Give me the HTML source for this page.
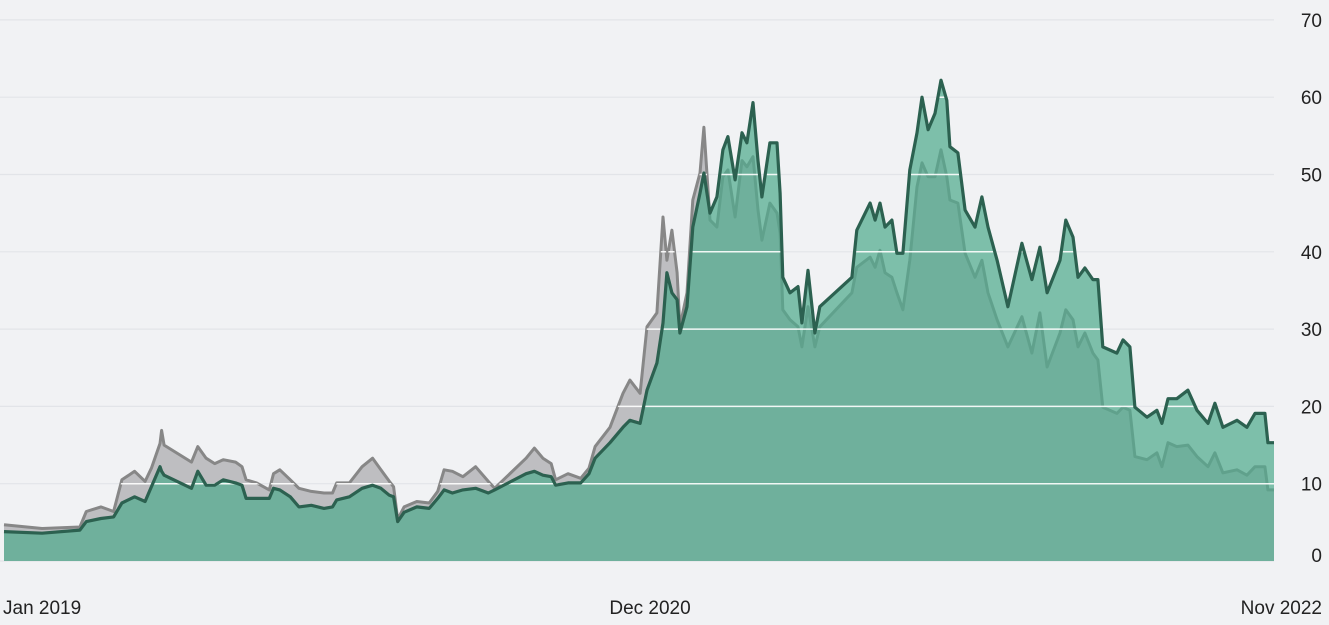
<!DOCTYPE html>
<html><head><meta charset="utf-8">
<style>
html,body{margin:0;padding:0;background:#f1f2f4;}
svg{display:block;font-family:"Liberation Sans",sans-serif;}
</style></head>
<body>
<svg id="chart" width="1329" height="625" viewBox="0 0 1329 625" xmlns="http://www.w3.org/2000/svg">
<rect x="0" y="0" width="1329" height="625" fill="#f1f2f4"/>
<g id="gridBack"></g>
<g id="marks"></g>
<g id="yTicks"></g>
<g id="xTicks"></g>
</svg>
<script>
const months = [0,1.38,2.75,2.98,3.51,3.97,4.27,4.73,5.11,5.34,5.65,5.71,5.80,6.79,7.02,7.32,7.63,7.94,8.39,8.62,8.77,9.15,9.61,9.76,9.99,10.37,10.68,11.13,11.59,11.90,12.05,12.51,12.97,13.35,13.65,13.96,14.11,14.26,14.49,14.95,15.40,15.71,15.94,16.24,16.62,17.08,17.54,17.77,18.91,19.21,19.52,19.82,19.98,20.43,20.89,21.19,
21.41,21.95,22.42,22.67,23.04,23.29,23.65,23.87,24.01,24.19,24.38,24.48,24.74,24.95,25.21,25.35,25.57,25.82,26.04,26.22,26.48,26.73,26.91,27.13,27.31,27.45,27.74,28.00,28.11,28.21,28.47,28.76,28.90,29.12,29.37,29.55,30.71,30.89,31.37,31.55,31.73,31.91,32.16,32.34,32.56,32.81,33.07,33.25,33.47,33.72,33.94,34.15,34.26,34.55,34.81,35.17,35.42,35.64,35.97,
36.36,36.87,37.23,37.52,37.78,38.25,38.46,38.72,38.90,39.15,39.44,39.62,39.80,40.31,40.53,40.78,40.96,41.40,41.76,41.94,42.16,42.48,42.88,43.21,43.61,43.86,44.15,44.66,45.02,45.31,45.67,45.78,46.00];
const seriesGreen = [3.8,3.6,4.0,5.1,5.5,5.7,7.5,8.3,7.7,9.6,12.2,11.6,11.1,9.4,11.6,9.8,9.8,10.5,10.1,9.8,8.1,8.1,8.1,9.4,9.2,8.3,7.0,7.2,6.8,7.0,7.9,8.3,9.4,9.8,9.4,8.5,8.3,5.1,6.3,7.0,6.8,8.1,9.2,8.8,9.2,9.4,8.8,9.2,11.3,11.6,11.1,10.9,9.8,10.1,10.1,11.3,
13.3,15.3,17.3,18.2,17.8,22.1,25.6,30.8,37.3,34.7,33.8,29.5,32.9,43.2,47.6,50.2,45.0,47.1,53.2,54.9,49.3,55.4,54.1,59.3,51.8,47.1,54.1,54.1,47.6,36.7,34.7,35.5,30.8,37.6,29.5,32.9,36.7,42.8,46.3,44.1,46.3,43.2,44.1,39.8,39.8,50.6,55.4,60.0,55.8,57.9,62.2,59.6,53.6,52.8,45.4,43.2,47.1,43.2,38.9,
32.9,41.1,36.4,40.6,34.7,38.9,44.1,41.9,36.7,37.9,36.4,36.4,27.7,26.9,28.6,27.7,19.9,18.6,19.5,17.8,21.0,21.0,22.1,19.5,17.8,20.4,17.3,18.2,17.3,19.1,19.1,15.3,15.3];
const seriesGrey = [4.7,4.2,4.4,6.4,7.0,6.4,10.5,11.6,10.3,12.0,15.2,16.9,15.0,12.8,14.8,13.3,12.6,13.1,12.8,12.2,10.5,10.1,9.2,11.3,11.8,10.5,9.4,9.0,8.8,8.8,10.1,10.1,12.2,13.3,11.8,10.3,9.6,5.4,7.0,7.7,7.5,9.0,11.8,11.6,10.9,12.2,10.3,9.4,13.3,14.6,13.3,12.6,10.5,11.3,10.7,12.0,
14.8,17.3,21.7,23.4,21.7,30.3,32.1,44.5,38.9,42.8,37.3,30.3,34.7,46.7,50.2,56.1,44.1,43.2,49.7,50.6,44.5,51.8,51.0,52.3,45.4,41.5,46.3,45.0,42.4,32.5,31.2,30.3,27.7,32.9,27.7,30.3,34.7,38.0,39.3,38.0,40.2,37.3,36.7,34.7,32.5,38.9,48.4,51.5,49.7,49.7,53.2,49.7,46.7,46.3,39.8,36.7,38.9,34.7,31.2,
27.7,31.6,26.9,32.1,25.1,29.5,32.5,31.2,27.7,29.5,26.9,26.0,19.9,19.1,19.9,19.5,13.5,13.1,14.0,12.2,15.3,14.8,15.0,13.5,12.2,14.0,11.4,11.8,11.1,12.2,12.2,9.2,9.2];
const yTickValues = [0,10,20,30,40,50,60,70];
const xTickLabels = ["Jan 2019","Dec 2020","Nov 2022"];
const xTickMonths = [0,23.4,46];

const NS="http://www.w3.org/2000/svg";
const X0=4,X1=1274,Y0=561,PER=7.73,MAXM=46;
function xScale(m){return X0+(X1-X0)*m/MAXM;}
function yScale(v){return Y0-v*PER;}
function mk(tag,attrs,parent){const e=document.createElementNS(NS,tag);for(const k in attrs)e.setAttribute(k,attrs[k]);parent.appendChild(e);return e;}
function linePath(vals){return vals.map((v,i)=>(i?"L":"M")+xScale(months[i]).toFixed(1)+","+yScale(v).toFixed(1)).join("");}
function areaPath(vals){return linePath(vals)+"L"+xScale(months[months.length-1]).toFixed(1)+","+Y0+"L"+xScale(months[0]).toFixed(1)+","+Y0+"Z";}

const gb=document.getElementById("gridBack");
yTickValues.forEach(v=>{
  const l=mk("line",{x1:0,x2:1274,y1:yScale(v),y2:yScale(v),stroke:"#e2e4e8","stroke-width":1.2},gb);
  
  
});

const marks=document.getElementById("marks");
const defs=mk("defs",{},marks);
const cp=mk("clipPath",{id:"areaClip"},defs);
mk("path",{d:areaPath(seriesGrey)},cp);
mk("path",{d:areaPath(seriesGreen)},cp);

const ga=mk("path",{d:areaPath(seriesGrey),fill:"#bebec1"},marks);


const gl=mk("path",{d:linePath(seriesGrey),fill:"none",stroke:"#878787","stroke-width":3,"stroke-linejoin":"round"},marks);


const na=mk("path",{d:areaPath(seriesGreen),fill:"rgb(82,172,143)","fill-opacity":0.73},marks);


const wg=mk("g",{"clip-path":"url(#areaClip)"},marks);


yTickValues.forEach(v=>{ if(v>0) mk("line",{x1:0,x2:1274,y1:yScale(v),y2:yScale(v),stroke:"#ffffff","stroke-width":1.5,"stroke-opacity":0.9},wg);});
const nl=mk("path",{d:linePath(seriesGreen),fill:"none",stroke:"#2c6150","stroke-width":3.2,"stroke-linejoin":"round"},marks);



const yt=document.getElementById("yTicks");
yTickValues.forEach(v=>{
  const t=mk("text",{x:1322,y:yScale(v)+(v===0?1:7),"text-anchor":"end","font-size":19,fill:"#222"},yt);
  t.textContent=String(v);
  
  
});
const xt=document.getElementById("xTicks");
xTickLabels.forEach((s,i)=>{
  const anchor=i===0?"start":(i===xTickLabels.length-1?"end":"middle");
  let x=xScale(xTickMonths[i]);
  if(i===0)x=3; if(i===xTickLabels.length-1)x=1322;
  const t=mk("text",{x:x,y:614,"text-anchor":anchor,"font-size":19,fill:"#222"},xt);
  t.textContent=s;
  
  
});
</script>
</body></html>
